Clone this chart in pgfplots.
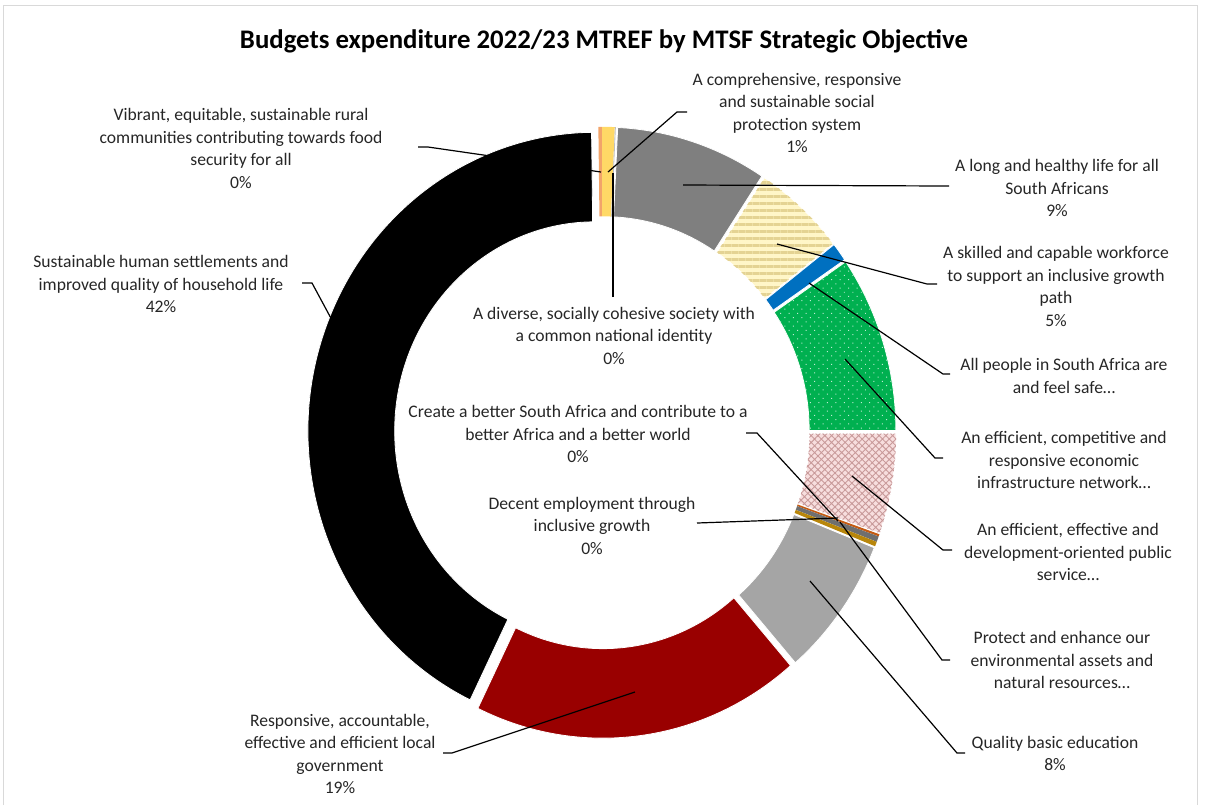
\documentclass[border=0pt]{standalone}
\usepackage{pgfplots}
\pgfplotsset{compat=1.18}
\usepackage{pgfplotstable}
\usetikzlibrary{patterns.meta}
\usepackage{fontspec}
\setmainfont{Carlito}

\definecolor{cVib}{HTML}{F2A46A}
\definecolor{cComp}{HTML}{FFD966}
\definecolor{cDiv}{HTML}{BFBFBF}
\definecolor{cLong}{HTML}{7F7F7F}
\definecolor{cSkillBg}{HTML}{FFF6C8}
\definecolor{cSkillLn}{HTML}{E4D393}
\definecolor{cSafe}{HTML}{0070C0}
\definecolor{cInfra}{HTML}{00B050}
\definecolor{cPubBg}{HTML}{F7DEDE}
\definecolor{cPubLn}{HTML}{C99A9A}
\definecolor{cCreate}{HTML}{C55A11}
\definecolor{cDecent}{HTML}{6F6F6F}
\definecolor{cProt}{HTML}{B8860B}
\definecolor{cQual}{HTML}{A5A5A5}
\definecolor{cResp}{HTML}{990000}
\definecolor{cSust}{HTML}{000000}
\definecolor{cFrame}{HTML}{D9D9D9}
\definecolor{cText}{HTML}{262626}

% share of the total budget, in percent, clockwise from 12 o'clock
\pgfplotstableread{
idx value
0 0.70
1 0.05
2 8.50
3 5.20
4 1.00
5 9.55
6 5.40
7 0.12
8 0.30
9 0.25
10 7.60
11 18.50
12 42.63
13 0.20
}\donutdata

\def\cum{0}
\pgfplotsforeachungrouped \i in {0,...,13}{%
  \pgfplotstablegetelem{\i}{value}\of\donutdata
  \pgfmathsetmacro\tA{\cum*3.6}%
  \pgfmathsetmacro\cumnew{\cum+\pgfplotsretval}%
  \pgfmathsetmacro\tB{\cumnew*3.6}%
  \expandafter\xdef\csname dA\i\endcsname{\tA}%
  \expandafter\xdef\csname dB\i\endcsname{\tB}%
  \xdef\cum{\cumnew}%
}

% one exploded ring segment
\newcommand\seg[2]{%
  \path[#2] (axis cs:602,432.5)
    ++({90-(\csname dA#1\endcsname+\csname dB#1\endcsname)/2}:3.5pt)
    ++({90-\csname dA#1\endcsname}:143.6pt and 149.35pt)
    arc[start angle={90-\csname dA#1\endcsname}, end angle={90-\csname dB#1\endcsname}, x radius=143.6pt, y radius=149.35pt]
    -- ++({270-\csname dB#1\endcsname}:43.35pt and 44.75pt)
    arc[start angle={90-\csname dB#1\endcsname}, end angle={90-\csname dA#1\endcsname}, x radius=100.25pt, y radius=104.6pt]
    -- cycle;}

\tikzset{
  lbl/.style={align=center, font=\fontsize{8.8}{11.25}\selectfont, text=cText, inner sep=0pt},
  lead/.style={draw=black, line width=0.6pt},
  wb/.style={draw=white, line width=0.4pt},
}

\begin{document}
\begin{tikzpicture}
\begin{axis}[
  hide axis, scale only axis,
  width=602.5pt, height=402.5pt,
  xmin=0, xmax=1205, ymin=0, ymax=805,
  y dir=reverse, clip=false,
]
\path (axis cs:0,0) rectangle (axis cs:1205,805);
\draw[cFrame, line width=0.6pt] (axis cs:3.5,805) -- (axis cs:3.5,5.5) -- (axis cs:1197.5,5.5) -- (axis cs:1197.5,805);

% ring segments
\seg{0}{fill=cComp}
\seg{1}{fill=cDiv}
\seg{2}{fill=cLong, wb}
\seg{3}{fill=cSkillBg, wb, postaction={pattern={Lines[angle=0, distance=3.5pt, line width=1.7pt]}, pattern color=cSkillLn}}
\seg{4}{fill=cSafe, wb}
\seg{5}{fill=cInfra, wb, postaction={pattern={Dots[angle=45, distance=3pt, radius=0.35pt]}, pattern color=white!75!cInfra}}
\seg{6}{fill=cPubBg, wb, postaction={pattern={Hatch[angle=45, distance=2.4pt, line width=0.45pt]}, pattern color=cPubLn}}
\seg{7}{fill=cCreate}
\seg{8}{fill=cDecent}
\seg{9}{fill=cProt}
\seg{10}{fill=cQual, wb}
\seg{11}{fill=cResp, wb}
\seg{12}{fill=cSust, wb}
\seg{13}{fill=cVib}

% leader lines
\draw[lead] (axis cs:418,147) -- (axis cs:428,147) -- (axis cs:601,172);
\draw[lead] (axis cs:608,172) -- (axis cs:677,112) -- (axis cs:687,112);
\draw[lead] (axis cs:613,297) -- (axis cs:613,173);
\draw[lead] (axis cs:683,185) -- (axis cs:949,186);
\draw[lead] (axis cs:777,244) -- (axis cs:927,284) -- (axis cs:937,284);
\draw[lead] (axis cs:809,283) -- (axis cs:943,374) -- (axis cs:950,374);
\draw[lead] (axis cs:845,359) -- (axis cs:935,458) -- (axis cs:943,458);
\draw[lead] (axis cs:852,476) -- (axis cs:943,550) -- (axis cs:952,550);
\draw[lead] (axis cs:746,433) -- (axis cs:757,433) -- (axis cs:838,521);
\draw[lead] (axis cs:697,523) -- (axis cs:838,518);
\draw[lead] (axis cs:840,522) -- (axis cs:942,660) -- (axis cs:950,660);
\draw[lead] (axis cs:810,581) -- (axis cs:957,753) -- (axis cs:965,753);
\draw[lead] (axis cs:635,692) -- (axis cs:452,753) -- (axis cs:443,753);
\draw[lead] (axis cs:302,283) -- (axis cs:312,283) -- (axis cs:340,335);

% title
\node[font=\bfseries\fontsize{13.4}{16}\selectfont, text=black, inner sep=0pt] at (axis cs:604,41)
  {Budgets expenditure 2022/23 MTREF by MTSF Strategic Objective};

% data labels
\node[lbl] at (axis cs:241,148.5) {Vibrant, equitable, sustainable rural\\communities contributing towards food\\security for all\\0\%};
\node[lbl] at (axis cs:797,113) {A comprehensive, responsive\\and sustainable social\\protection system\\1\%};
\node[lbl] at (axis cs:1057,188) {A long and healthy life for all\\South Africans\\9\%};
\node[lbl] at (axis cs:1056,286.5) {A skilled and capable workforce\\to support an inclusive growth\\path\\5\%};
\node[lbl] at (axis cs:1064,376) {All people in South Africa are\\and feel safe…};
\node[lbl] at (axis cs:1064,460) {An efficient, competitive and\\responsive economic\\infrastructure network…};
\node[lbl] at (axis cs:1068,552) {An efficient, effective and\\development-oriented public\\service…};
\node[lbl] at (axis cs:1062,660) {Protect and enhance our\\environmental assets and\\natural resources…};
\node[lbl] at (axis cs:1055,753.5) {Quality basic education\\8\%};
\node[lbl] at (axis cs:340,754) {Responsive, accountable,\\effective and efficient local\\government\\19\%};
\node[lbl] at (axis cs:161,284) {Sustainable human settlements and\\improved quality of household life\\42\%};
\node[lbl] at (axis cs:614,335.5) {A diverse, socially cohesive society with\\a common national identity\\0\%};
\node[lbl] at (axis cs:578,434) {Create a better South Africa and contribute to a\\better Africa and a better world\\0\%};
\node[lbl] at (axis cs:592,525.5) {Decent employment through\\inclusive growth\\0\%};
\end{axis}
\end{tikzpicture}
\end{document}
